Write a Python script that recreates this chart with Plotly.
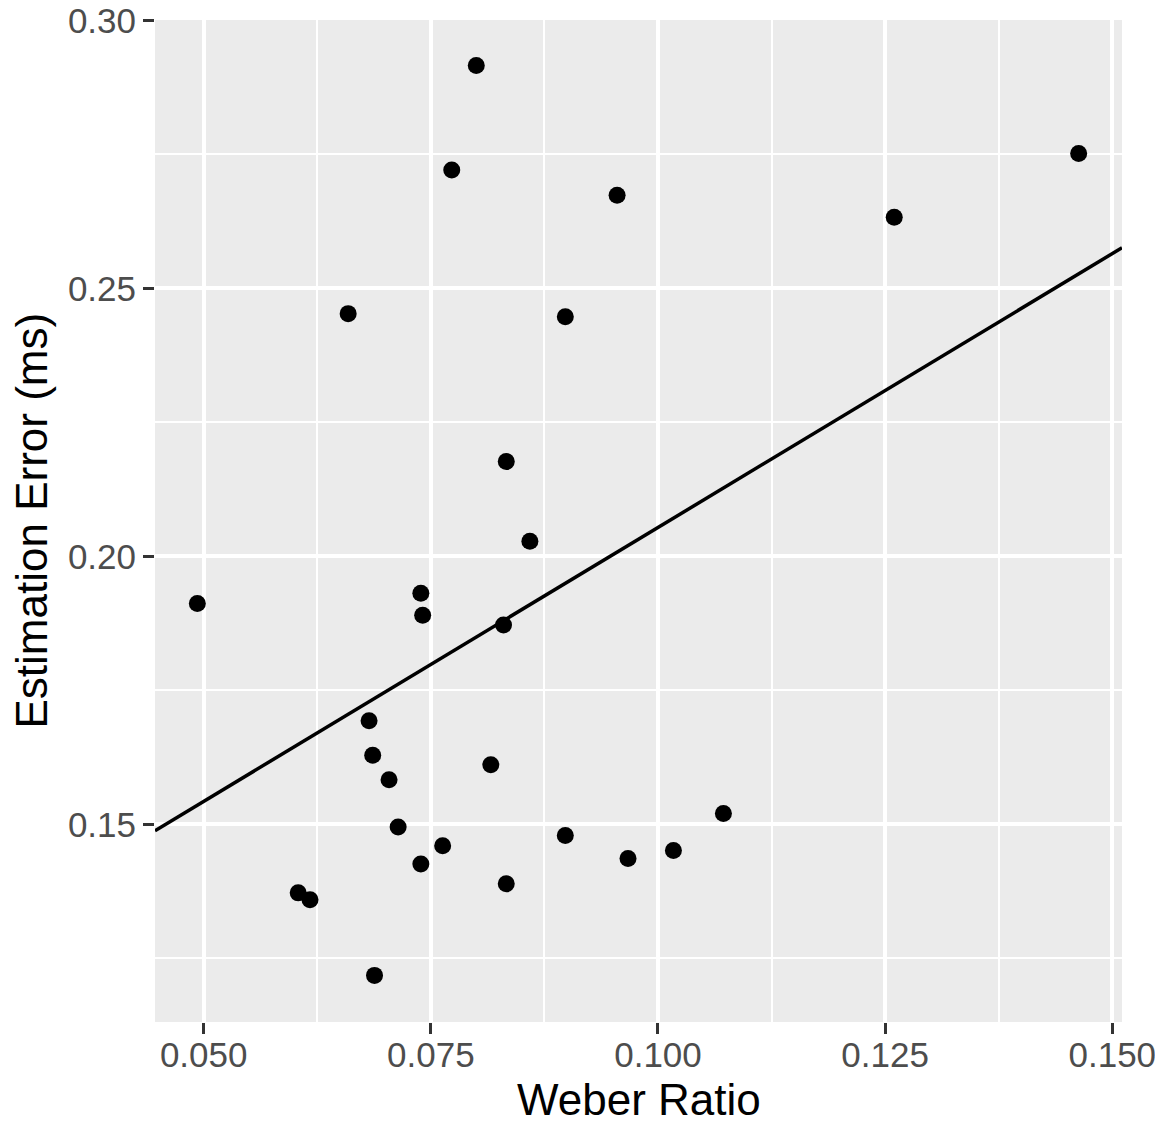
import plotly.graph_objects as go

# Data
weber_ratio = [0.0493, 0.0604, 0.0617, 0.0659, 0.0682, 0.0686, 0.0688, 0.0704,
               0.0714, 0.0739, 0.0741, 0.0739, 0.0763, 0.0773, 0.0800, 0.0816,
               0.0830, 0.0833, 0.0833, 0.0859, 0.0898, 0.0898, 0.0955, 0.0967,
               0.1017, 0.1072, 0.1260, 0.1463]
estimation_error = [0.1912, 0.1372, 0.1359, 0.2453, 0.1693, 0.1629, 0.1218, 0.1583,
                    0.1495, 0.1931, 0.1890, 0.1426, 0.1460, 0.2721, 0.2916, 0.1611,
                    0.1872, 0.2177, 0.1389, 0.2028, 0.2447, 0.1479, 0.2674, 0.1436,
                    0.1451, 0.1520, 0.2633, 0.2752]

fit_intercept = 0.10316
fit_slope = 1.0223

x_ticks = [0.050, 0.075, 0.100, 0.125, 0.150]
x_ticktext = ["0.050", "0.075", "0.100", "0.125", "0.150"]
x_minor = [0.0625, 0.0875, 0.1125, 0.1375]
y_ticks = [0.15, 0.20, 0.25, 0.30]
y_ticktext = ["0.15", "0.20", "0.25", "0.30"]
y_minor = [0.125, 0.175, 0.225, 0.275]

x_range = [0.04464, 0.15107]
y_range = [0.1131, 0.3001]

FONT = "Liberation Sans, Arial, sans-serif"

fig = go.Figure()

line_x = list(x_range)
line_y = [fit_intercept + fit_slope * v for v in line_x]
fig.add_trace(go.Scatter(x=line_x, y=line_y, mode="lines",
                         line=dict(color="black", width=3.5),
                         hoverinfo="skip", showlegend=False, cliponaxis=True))

fig.add_trace(go.Scatter(x=weber_ratio, y=estimation_error, mode="markers",
                         marker=dict(color="black", size=17, line=dict(width=0)),
                         showlegend=False, cliponaxis=False))

axis_common = dict(
    showline=False, zeroline=False,
    ticks="outside", ticklen=11, tickwidth=3, tickcolor="#333333",
    tickfont=dict(family=FONT, size=35, color="#4D4D4D"),
    showgrid=True, gridcolor="white", gridwidth=4,
    ticklabeloverflow="allow",
)

fig.update_xaxes(range=x_range, tickmode="array", tickvals=x_ticks, ticktext=x_ticktext,
                 minor=dict(tickmode="array", tickvals=x_minor, showgrid=True,
                            gridcolor="white", gridwidth=2, ticks=""),
                 ticklabelstandoff=-9,
                 **axis_common)
fig.update_yaxes(range=y_range, tickmode="array", tickvals=y_ticks, ticktext=y_ticktext,
                 minor=dict(tickmode="array", tickvals=y_minor, showgrid=True,
                            gridcolor="white", gridwidth=2, ticks=""),
                 **axis_common)

fig.update_layout(
    width=1155, height=1126,
    margin=dict(l=155, r=33, t=20, b=104, autoexpand=False),
    paper_bgcolor="white", plot_bgcolor="#EBEBEB",
    font=dict(family=FONT),
    annotations=[
        dict(text="Weber Ratio", x=0.5, y=0, xref="paper", yref="paper",
             xanchor="center", yanchor="middle", yshift=-77.5, showarrow=False,
             font=dict(family=FONT, size=44, color="black")),
        dict(text="Estimation Error (ms)", x=0, y=0.5, xref="paper", yref="paper",
             xanchor="center", yanchor="middle", xshift=-124.5, textangle=-90,
             showarrow=False, font=dict(family=FONT, size=44, color="black")),
    ],
)

fig.write_html("out.html", config={"displayModeBar": False},
               post_script="document.body.style.margin='0';document.body.style.overflow='hidden';")
